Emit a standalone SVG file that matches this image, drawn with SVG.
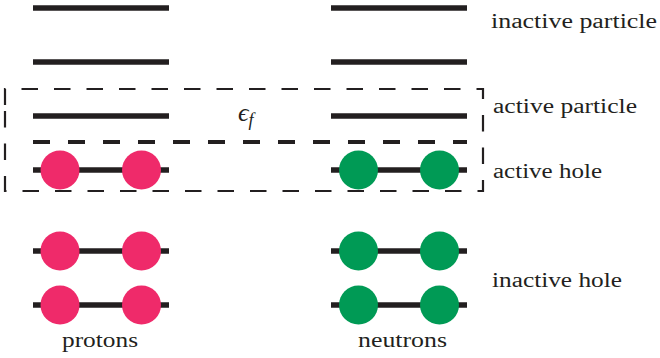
<svg xmlns="http://www.w3.org/2000/svg" width="660" height="358" viewBox="0 0 660 358">
<style>
.lvl{stroke:#231f20;stroke-width:5.5;fill:none}
.p{fill:#ef2a6a}
.n{fill:#009a55}
.lbl{font-family:"Liberation Serif","Times New Roman",serif;font-size:20.5px;fill:#231f20}
</style>
<rect width="660" height="358" fill="#fff"/>
<g id="connectors">
<path id="active-box" d="M5 105 V89 H483 V191 H5 Z" fill="none" stroke="#231f20" stroke-width="2.2" stroke-dasharray="16.5 16"/>
<line id="fermi" x1="33" y1="142" x2="467" y2="142" stroke="#231f20" stroke-width="4" stroke-dasharray="17 18"/>
</g>
<g id="protons">
<line class="lvl" x1="33" y1="8" x2="169" y2="8"/>
<line class="lvl" x1="33" y1="62" x2="169" y2="62"/>
<line class="lvl" x1="33" y1="116" x2="169" y2="116"/>
<line class="lvl" x1="33" y1="170" x2="169" y2="170"/>
<line class="lvl" x1="33" y1="251" x2="169" y2="251"/>
<line class="lvl" x1="33" y1="305" x2="169" y2="305"/>
<circle class="p" cx="60" cy="170" r="19.5"/>
<circle class="p" cx="141.5" cy="170" r="19.5"/>
<circle class="p" cx="60" cy="251" r="19.5"/>
<circle class="p" cx="141.5" cy="251" r="19.5"/>
<circle class="p" cx="60" cy="305" r="19.5"/>
<circle class="p" cx="141.5" cy="305" r="19.5"/>
<text class="lbl" x="62" y="347" textLength="76" lengthAdjust="spacingAndGlyphs">protons</text>
</g>
<g id="neutrons">
<line class="lvl" x1="331" y1="8" x2="467" y2="8"/>
<line class="lvl" x1="331" y1="62" x2="467" y2="62"/>
<line class="lvl" x1="331" y1="116" x2="467" y2="116"/>
<line class="lvl" x1="331" y1="170" x2="467" y2="170"/>
<line class="lvl" x1="331" y1="251" x2="467" y2="251"/>
<line class="lvl" x1="331" y1="305" x2="467" y2="305"/>
<circle class="n" cx="358.5" cy="170" r="19.5"/>
<circle class="n" cx="439.5" cy="170" r="19.5"/>
<circle class="n" cx="358.5" cy="251" r="19.5"/>
<circle class="n" cx="439.5" cy="251" r="19.5"/>
<circle class="n" cx="358.5" cy="305" r="19.5"/>
<circle class="n" cx="439.5" cy="305" r="19.5"/>
<text class="lbl" x="358" y="347" textLength="89" lengthAdjust="spacingAndGlyphs">neutrons</text>
</g>
<g id="fermi-label">
<text x="238" y="121" font-family="'Liberation Serif',serif" font-style="italic" font-size="26" fill="#231f20">ϵ<tspan font-size="18" dy="5">f</tspan></text>
</g>
<g id="labels">
<text id="l-inactive-particle" class="lbl" x="491" y="28" textLength="166" lengthAdjust="spacingAndGlyphs">inactive particle</text>
<text id="l-active-particle" class="lbl" x="493" y="113" textLength="144" lengthAdjust="spacingAndGlyphs">active particle</text>
<text id="l-active-hole" class="lbl" x="493" y="178" textLength="109" lengthAdjust="spacingAndGlyphs">active hole</text>
<text id="l-inactive-hole" class="lbl" x="492" y="287" textLength="130" lengthAdjust="spacingAndGlyphs">inactive hole</text>
</g>
</svg>
